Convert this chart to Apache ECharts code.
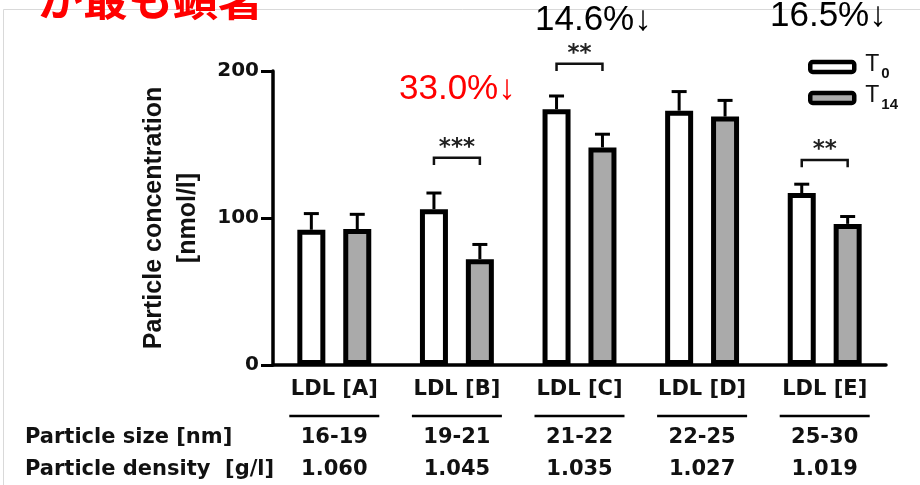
<!DOCTYPE html>
<html><head><meta charset="utf-8">
<script src="https://cdn.jsdelivr.net/npm/echarts@6/dist/echarts.min.js"></script>
<style>html,body{margin:0;padding:0;background:#fff}#c{width:920px;height:485px}</style>
</head><body><div id="c"></div>
<script>
// ---- data ----
const categories = ['LDL [A]', 'LDL [B]', 'LDL [C]', 'LDL [D]', 'LDL [E]'];
const particleSize = ['16-19', '19-21', '21-22', '22-25', '25-30'];
const particleDensity = ['1.060', '1.045', '1.035', '1.027', '1.019'];
const seriesNames = ['T0', 'T14'];
const t0Values = [92, 106, 174, 173, 117];
const t0Errors = [11, 11, 9, 13, 6];
const t14Values = [92.5, 72, 148, 169, 96];
const t14Errors = [10, 10, 9, 11, 5];
const yMin = 0, yMax = 200, yStep = 100;
const sigCategories = [1, 2, 4];
const sigLevels = [141, 205, 139.5];
const sigStars = ['***', '**', '**'];
const yAxisTitle = 'Particle concentration\n[nmol/l]';
const rowTitles = ['Particle size [nm]', 'Particle density  [g/l]'];

// ---- style constants ----
const BAR_W = 28, BAR_GAP = 0.64, CAP_W = 15, LEG = 5;
const PAIR_OFFSET = BAR_W * (1 + BAR_GAP) / 2;
const FONT_TBL = 'DejaVu Sans';
const gridRect = { left: 273, right: 34, top: 71, bottom: 120 };

const chart = echarts.init(document.getElementById('c'), null, { renderer: 'canvas' });

function errorRender(sign) {
  return function (params, api) {
    const i = api.value(0), v = api.value(1), e = api.value(2);
    const b = api.coord([i, v]);
    const t = api.coord([i, v + e]);
    const x = b[0] + sign * PAIR_OFFSET;
    return {
      type: 'group', children: [
        { type: 'line', shape: { x1: x, y1: b[1], x2: x, y2: t[1] }, style: { stroke: '#000', lineWidth: 3 } },
        { type: 'line', shape: { x1: x - CAP_W / 2, y1: t[1], x2: x + CAP_W / 2, y2: t[1] }, style: { stroke: '#000', lineWidth: 3 } }
      ]
    };
  };
}

function bracketRender(params, api) {
  const i = api.value(0), lvl = api.value(1);
  const top = api.coord([i, lvl]);
  const bot = api.coord([i, lvl - LEG]);
  const x1 = top[0] - PAIR_OFFSET, x2 = top[0] + PAIR_OFFSET;
  return {
    type: 'group', children: [
      { type: 'polyline', shape: { points: [[x1, bot[1]], [x1, top[1]], [x2, top[1]], [x2, bot[1]]] }, style: { stroke: '#111', lineWidth: 2.5, fill: null } },
      { type: 'text', x: top[0], y: top[1] - 10, style: { text: sigStars[params.dataIndex], fontFamily: FONT_TBL, fontWeight: 'bold', fontSize: 23, fill: '#222', align: 'center', verticalAlign: 'middle' } }
    ]
  };
}

const tblLabel = { fontFamily: FONT_TBL, fontWeight: 'bold', fontSize: 21, color: '#111', verticalAlign: 'middle' };

const option = {
  animation: false,
  backgroundColor: '#fff',
  grid: [Object.assign({}, gridRect), Object.assign({}, gridRect), Object.assign({}, gridRect)],
  legend: {
    orient: 'vertical', left: 808, top: 53, padding: 0, itemWidth: 44, itemHeight: 10, itemGap: 3,
    data: seriesNames,
    itemStyle: { borderWidth: 4.5, borderColor: '#000' },
    formatter: n => '{t|T}{s|' + n.slice(1) + '}',
    textStyle: {
      rich: {
        t: { fontFamily: 'Liberation Sans', fontSize: 23, color: '#111', padding: [0, 0, 5, 6] },
        s: { fontFamily: 'Liberation Sans', fontSize: 15, fontWeight: 'bold', color: '#111', verticalAlign: 'bottom', padding: [0, 0, 0, 2] }
      }
    }
  },
  xAxis: [
    { type: 'category', data: categories, gridIndex: 0,
      axisLine: { lineStyle: { color: '#000', width: 3.5 } },
      axisTick: { alignWithLabel: true, length: 9, lineStyle: { color: '#000', width: 3 } },
      axisLabel: { fontFamily: FONT_TBL, fontWeight: 'bold', fontSize: 21, color: '#111', margin: 24.5, verticalAlign: 'middle' } },
    { type: 'category', data: particleSize, gridIndex: 1, axisLine: { show: false }, axisTick: { show: false },
      axisLabel: Object.assign({ margin: 72.5 }, tblLabel) },
    { type: 'category', data: particleDensity, gridIndex: 2, axisLine: { show: false }, axisTick: { show: false },
      axisLabel: Object.assign({ margin: 104.5 }, tblLabel) }
  ],
  yAxis: [
    { type: 'value', gridIndex: 0, min: yMin, max: yMax, interval: yStep,
      splitLine: { show: false },
      axisLine: { show: true, lineStyle: { color: '#000', width: 3.5 } },
      axisTick: { show: true, length: 12, lineStyle: { color: '#000', width: 3 } },
      axisLabel: { fontFamily: FONT_TBL, fontWeight: 'bold', fontSize: 20, color: '#111', margin: 14 },
      name: yAxisTitle, nameLocation: 'middle', nameGap: 68,
      nameTextStyle: { fontFamily: 'Liberation Sans', fontWeight: 'bold', fontSize: 25, color: '#111', lineHeight: 34 } },
    { type: 'value', gridIndex: 1, show: false },
    { type: 'value', gridIndex: 2, show: false }
  ],
  series: [
    { name: 'T0', type: 'bar', data: t0Values, barWidth: BAR_W, barGap: (BAR_GAP * 100) + '%',
      itemStyle: { color: '#fff', borderColor: '#000', borderWidth: 5 }, z: 3 },
    { name: 'T14', type: 'bar', data: t14Values, barWidth: BAR_W, barGap: (BAR_GAP * 100) + '%',
      itemStyle: { color: '#aaaaaa', borderColor: '#000', borderWidth: 5 }, z: 3 },
    { type: 'custom', renderItem: errorRender(-1), data: t0Values.map((v, i) => [i, v, t0Errors[i]]), z: 2, clip: false, silent: true },
    { type: 'custom', renderItem: errorRender(1), data: t14Values.map((v, i) => [i, v, t14Errors[i]]), z: 2, clip: false, silent: true },
    { type: 'custom', renderItem: bracketRender, data: sigCategories.map((c, k) => [c, sigLevels[k]]), z: 4, clip: false, silent: true }
  ],
  graphic: { elements: [
    { id: 'frame', type: 'rect', silent: true, z: -1, shape: { x: 3.5, y: 9.5, width: 1000, height: 1000 }, style: { fill: null, stroke: '#d9d9d9', lineWidth: 1 } },
    { id: 'jp', type: 'text', x: 38, y: -1, style: { text: 'が最も顕著', fontFamily: 'Noto Sans CJK JP', fontWeight: 'bold', fontSize: 45, fill: '#ff0000', verticalAlign: 'middle' } },
    { id: 'p1', type: 'text', x: 399, y: 89.5, style: { text: '33.0%↓', fontFamily: 'Liberation Sans', fontSize: 35, fill: '#ff0000', verticalAlign: 'middle' } },
    { id: 'p2', type: 'text', x: 535, y: 20, style: { text: '14.6%↓', fontFamily: 'Liberation Sans', fontSize: 35, fill: '#000', verticalAlign: 'middle' } },
    { id: 'p3', type: 'text', x: 770, y: 16.5, style: { text: '16.5%↓', fontFamily: 'Liberation Sans', fontSize: 35, fill: '#000', verticalAlign: 'middle' } },
    { id: 'r1', type: 'text', x: 25, y: 437.5, style: { text: rowTitles[0], fontFamily: FONT_TBL, fontWeight: 'bold', fontSize: 21, fill: '#111', verticalAlign: 'middle' } },
    { id: 'r2', type: 'text', x: 25, y: 469.5, style: { text: rowTitles[1], fontFamily: FONT_TBL, fontWeight: 'bold', fontSize: 21, fill: '#111', verticalAlign: 'middle' } }
  ] }
};
chart.setOption(option);

// underlines beneath category labels, positioned through the axis scales
const y0 = chart.convertToPixel({ yAxisIndex: 0 }, yMin);
const underlines = categories.map((c, i) => {
  const x = chart.convertToPixel({ xAxisIndex: 0 }, i);
  return { id: 'ul' + i, type: 'line', silent: true, shape: { x1: x - 45, y1: y0 + 51, x2: x + 45, y2: y0 + 51 }, style: { stroke: '#000', lineWidth: 2.5 } };
});
chart.setOption({ graphic: { elements: underlines } });
</script>
</body></html>
